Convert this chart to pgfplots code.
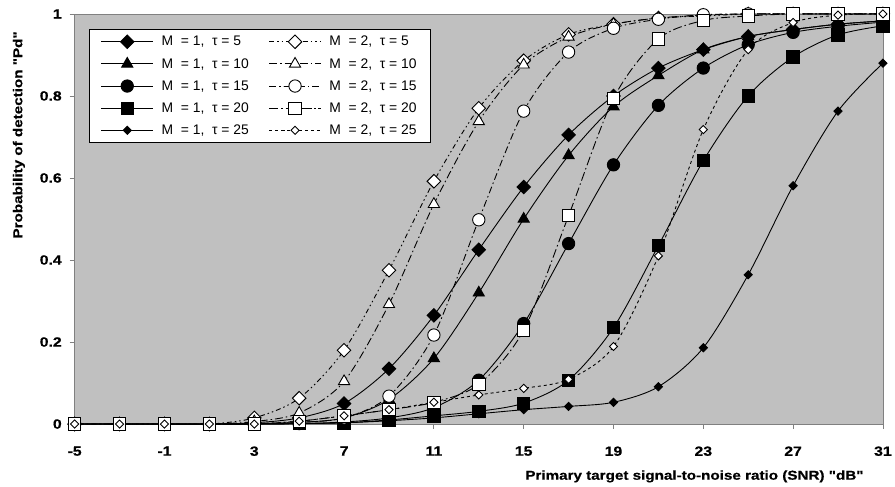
\documentclass[border=0pt]{standalone}
\usepackage{fontspec}
\setmainfont{Liberation Sans}
\newfontfamily\axfont{Liberation Sans}[FakeStretch=1.18, FakeBold=0.6]
\usepackage{pgfplots}
\pgfplotsset{compat=1.18}
\definecolor{bggray}{RGB}{192,192,192}
\definecolor{bordergray}{RGB}{128,128,128}
\pgfplotstableread{
x  m1a   m1b   m1c   m1d   m1e   m2a   m2b   m2c   m2d   m2e
-5 0     0     0     0     0     0     0     0     0     0
-3 0     0     0     0     0     0     0     0     0     0
-1 0     0     0     0     0     0     0     0     0     0
1  0     0     0     0     0     0     0     0     0     0
3  0.003 0.001 0     0     0     0.015 0.006 0.001 0     0
5  0.015 0.004 0.001 0.001 0.001 0.063 0.027 0.004 0.007 0.007
7  0.050 0.015 0.005 0.003 0.003 0.180 0.104 0.015 0.020 0.020
9  0.135 0.060 0.015 0.010 0.008 0.375 0.292 0.068 0.035 0.035
11 0.265 0.160 0.040 0.020 0.015 0.592 0.536 0.217 0.053 0.053
13 0.425 0.320 0.107 0.031 0.025 0.770 0.738 0.498 0.097 0.071
15 0.578 0.500 0.245 0.051 0.035 0.886 0.876 0.763 0.229 0.087
17 0.705 0.655 0.440 0.107 0.043 0.950 0.944 0.907 0.508 0.109
19 0.800 0.774 0.632 0.235 0.053 0.975 0.975 0.965 0.794 0.189
21 0.868 0.850 0.777 0.435 0.091 0.990 0.990 0.987 0.939 0.410
23 0.913 0.913 0.868 0.642 0.186 0.995 0.997 0.998 0.984 0.718
25 0.945 0.945 0.925 0.800 0.364 1     1     1     0.995 0.913
27 0.962 0.962 0.955 0.895 0.581 1     1     1     1     0.979
29 0.975 0.975 0.970 0.949 0.763 1     1     1     1     0.997
31 0.983 0.983 0.980 0.971 0.880 1     1     1     1     1
}\datatable
\begin{document}
\begin{tikzpicture}
\begin{axis}[
  scale only axis, width=812bp, height=412bp,
  xmin=-5, xmax=31, ymin=0, ymax=1,
  axis background/.style={fill=bggray},
  axis line style={bordergray, line width=0.8bp},
  tick style={bordergray, line width=0.8bp},
  tick align=outside, major tick length=5bp,
  tick pos=left,
  xtick={-5,-1,3,7,11,15,19,23,27,31},
  xticklabels={-5,-1,3,7,11,15,19,23,27,31},
  ytick={0,0.2,0.4,0.6,0.8,1},
  yticklabels={0,0.2,0.4,0.6,0.8,1},
  tick label style={font=\axfont\bfseries\fontsize{13.5}{15}\selectfont, black},
  xticklabel style={yshift=-14bp},
  yticklabel style={xshift=-4.5bp},
  xlabel={Primary target signal-to-noise ratio (SNR) "dB"},
  ylabel={Probability of detection "Pd"},
  label style={font=\axfont\bfseries\fontsize{13}{15}\selectfont},
  xlabel style={at={(axis description cs:0.9803,-0.1044)}, anchor=north east},
  ylabel style={at={(axis description cs:-0.069,0.966)}, anchor=east},
  every axis plot/.append style={line width=0.9bp, black, smooth},
  legend style={at={(axis description cs:0.01724,0.9636)}, anchor=north west,
    draw=black, line width=0.8bp, fill=white, font=\fontsize{14}{16}\selectfont,
    cells={anchor=west}, row sep=7bp, inner xsep=12bp, inner ysep=5bp,
    /tikz/every odd column/.append style={column sep=6bp},
    /tikz/every even column/.append style={column sep=18bp}},
  legend columns=5, transpose legend,
  legend image code/.code={\draw[mark repeat=2,mark phase=2] plot coordinates {(0bp,0bp) (26bp,0bp) (52bp,0bp)};},
]
\addplot[mark=square*, mark options={rotate=45, fill=black, solid}, mark size=4.8bp] table[x=x,y=m1a]{\datatable};
\addlegendentry{M\ \ = 1,\ \ τ = 5}
\addplot[mark=triangle*, mark options={fill=black, solid}, mark size=6.5bp] table[x=x,y=m1b]{\datatable};
\addlegendentry{M\ \ = 1,\ \ τ = 10}
\addplot[mark=*, mark options={fill=black, solid}, mark size=6.2bp] table[x=x,y=m1c]{\datatable};
\addlegendentry{M\ \ = 1,\ \ τ = 15}
\addplot[mark=square*, mark options={fill=black, solid}, mark size=6.2bp] table[x=x,y=m1d]{\datatable};
\addlegendentry{M\ \ = 1,\ \ τ = 20}
\addplot[mark=square*, mark options={rotate=45, fill=black, solid}, mark size=2.9bp] table[x=x,y=m1e]{\datatable};
\addlegendentry{M\ \ = 1,\ \ τ = 25}
\addplot[dash pattern=on 5bp off 3bp on 1.5bp off 3bp on 1.5bp off 3bp, mark=square*, mark options={rotate=45, fill=white, solid}, mark size=4.8bp] table[x=x,y=m2a]{\datatable};
\addlegendentry{M\ \ = 2,\ \ τ = 5}
\addplot[dash pattern=on 8bp off 3bp on 1.5bp off 3bp, mark=triangle*, mark options={fill=white, solid}, mark size=6.5bp] table[x=x,y=m2b]{\datatable};
\addlegendentry{M\ \ = 2,\ \ τ = 10}
\addplot[dash pattern=on 7bp off 3bp on 1.5bp off 3bp, mark=*, mark options={fill=white, solid}, mark size=6.2bp] table[x=x,y=m2c]{\datatable};
\addlegendentry{M\ \ = 2,\ \ τ = 15}
\addplot[dash pattern=on 9bp off 3bp on 1.5bp off 3bp, mark=square*, mark options={fill=white, solid}, mark size=6.2bp] table[x=x,y=m2d]{\datatable};
\addlegendentry{M\ \ = 2,\ \ τ = 20}
\addplot[dash pattern=on 3bp off 3bp, mark=square*, mark options={rotate=45, fill=white, solid}, mark size=2.9bp] table[x=x,y=m2e]{\datatable};
\addlegendentry{M\ \ = 2,\ \ τ = 25}
\end{axis}
\path (current axis.south west) ++(-75bp,-63bp);
\path (current axis.north east) ++(8bp,14bp);
\end{tikzpicture}
\end{document}
